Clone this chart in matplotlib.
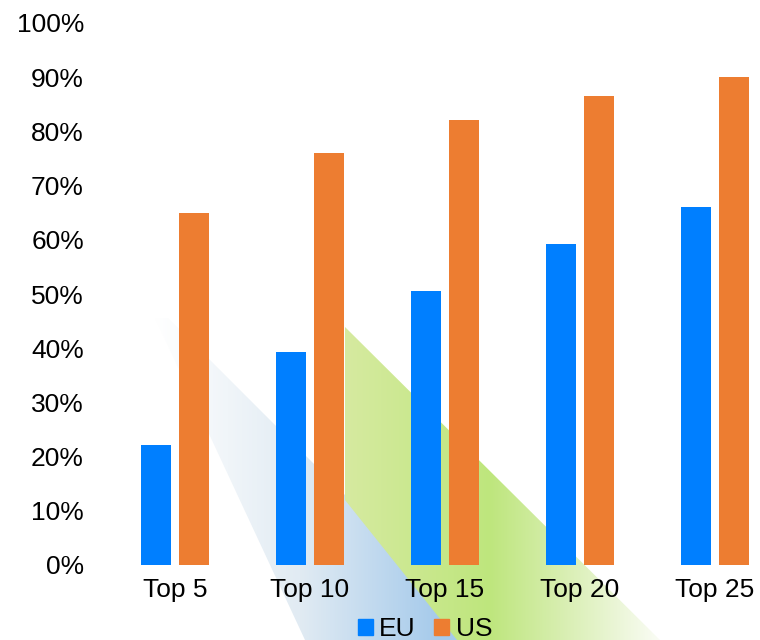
import matplotlib
matplotlib.use("Agg")
import matplotlib.pyplot as plt
import numpy as np
from matplotlib.patches import Polygon, Patch
from matplotlib.ticker import PercentFormatter

plt.rcParams["font.family"] = ["Liberation Sans", "DejaVu Sans"]

categories = ["Top 5", "Top 10", "Top 15", "Top 20", "Top 25"]
eu = [22.1, 39.3, 50.6, 59.2, 66.1]
us = [64.9, 76.0, 82.1, 86.5, 90.0]
series = ["EU", "US"]
colors = ["#007FFF", "#ED7D31"]

W, H = 760, 640
fig = plt.figure(figsize=(W / 100, H / 100), dpi=100)

# decorative diagonal gradient stripes behind the chart (pixel space)
bg = fig.add_axes([0, 0, 1, 1])
bg.set_xlim(0, W)
bg.set_ylim(H, 0)
bg.axis("off")


def gradient_band(verts, stops):
    xs = np.linspace(0, W, W)
    cols = []
    for c in range(3):
        cols.append(np.interp(xs, [s[0] for s in stops], [s[1][c] for s in stops]))
    row = np.stack(cols, axis=-1) / 255.0
    img = np.tile(row[None, :, :], (2, 1, 1))
    im = bg.imshow(img, extent=(0, W, H, 0), aspect="auto", interpolation="bilinear")
    poly = Polygon(verts, closed=True, facecolor="none", edgecolor="none")
    bg.add_patch(poly)
    im.set_clip_path(poly)


gradient_band([(155, 318), (168, 318), (490, 640), (305, 640)],
              [(155, (255, 255, 255)), (300, (225, 235, 243)), (440, (165, 202, 235)), (760, (165, 202, 235))])
gradient_band([(345, 327), (660, 640), (457, 640), (345, 500)],
              [(0, (214, 234, 160)), (345, (214, 234, 160)), (490, (190, 230, 125)), (560, (215, 238, 175)),
               (660, (250, 252, 245)), (760, (255, 255, 255))])

ax = fig.add_axes([107.5 / W, 75 / H, (W - 107.5) / W, 542 / H])
ax.patch.set_alpha(0)

x = np.arange(len(categories))
bw = 0.225
off = 0.14
ax.bar(x - off, eu, bw, color=colors[0], label=series[0], zorder=3)
ax.bar(x + off, us, bw, color=colors[1], label=series[1], zorder=3)

ax.set_xlim(-0.5, (W - 107.5) / 135 - 0.5)
ax.set_ylim(0, 100)
ax.set_yticks(np.arange(0, 101, 10))
ax.yaxis.set_major_formatter(PercentFormatter(decimals=0))
ax.set_xticks(x)
ax.set_xticklabels(categories)
ax.tick_params(axis="both", length=0, labelsize=19, colors="black")
ax.tick_params(axis="y", pad=17)
ax.tick_params(axis="x", pad=9)
for s in ax.spines.values():
    s.set_visible(False)

handles = [Patch(color=c, label=l) for c, l in zip(colors, series)]
fig.legend(handles=handles, loc="center", bbox_to_anchor=(425 / W, 1 - 629 / H), ncol=2,
           frameon=False, fontsize=19, handlelength=0.57, handleheight=0.57,
           handletextpad=0.25, columnspacing=0.7)

fig.savefig("out.png", dpi=100)
